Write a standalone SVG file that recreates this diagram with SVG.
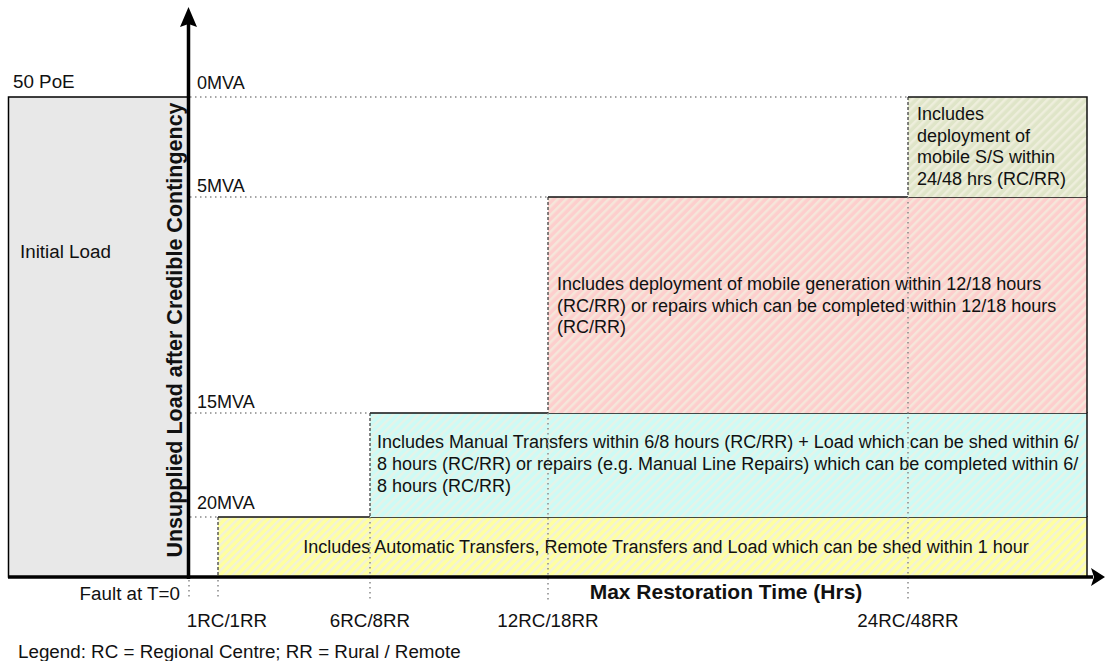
<svg xmlns="http://www.w3.org/2000/svg" width="1105" height="661" viewBox="0 0 1105 661">
<defs>
<pattern id="pY" width="6" height="6" patternUnits="userSpaceOnUse" patternTransform="rotate(45)"><rect width="6" height="6" fill="#ffff9e"/><rect width="2.5" height="6" fill="#f3f3d6"/></pattern>
<pattern id="pC" width="6" height="6" patternUnits="userSpaceOnUse" patternTransform="rotate(45)"><rect width="6" height="6" fill="#ccfbf6"/><rect width="2.5" height="6" fill="#e6f3e8"/></pattern>
<pattern id="pP" width="6" height="6" patternUnits="userSpaceOnUse" patternTransform="rotate(45)"><rect width="6" height="6" fill="#fdcecd"/><rect width="2.5" height="6" fill="#f5e6da"/></pattern>
<pattern id="pG" width="6" height="6" patternUnits="userSpaceOnUse" patternTransform="rotate(45)"><rect width="6" height="6" fill="#dfe5c8"/><rect width="2.5" height="6" fill="#eeeedc"/></pattern>
</defs>
<style>
text{font-family:"Liberation Sans",Arial,sans-serif;font-size:18px;fill:#111}
.lb{font-size:18.8px}
.b{font-weight:bold;font-size:21px}
.dot{stroke:#888;stroke-width:1.5;stroke-dasharray:1.5 3.5;fill:none}
.box{stroke:none}
.edge{stroke:#111;stroke-width:1.5;fill:none}
.dash{stroke:#333;stroke-width:1.2;stroke-dasharray:3 2;fill:none}
</style>
<g id="initial-load">
<rect x="8.5" y="97" width="180" height="480" fill="#e8e8e8" stroke="#000" stroke-width="1.5"/>
<text class="lb" x="13" y="88">50 PoE</text>
<text class="lb" x="20" y="258">Initial Load</text>
</g>
<g id="yellow">
<rect class="box" x="218" y="517" width="869" height="60" fill="url(#pY)"/>
<path class="edge" d="M218,517 H1087 V577"/>
<path class="dash" d="M218,517 V577"/>
<text x="666" y="553" text-anchor="middle">Includes Automatic Transfers, Remote Transfers and Load which can be shed within 1 hour</text>
</g>
<g id="cyan">
<rect class="box" x="370" y="413" width="717" height="104" fill="url(#pC)"/>
<path class="edge" d="M370,413 H1087 V517"/>
<path class="dash" d="M370,413 V517"/>
<text x="377" y="448">Includes Manual Transfers within 6/8 hours (RC/RR) + Load which can be shed within 6/</text>
<text x="377" y="470">8 hours (RC/RR) or repairs (e.g. Manual Line Repairs) which can be completed within 6/</text>
<text x="377" y="492">8 hours (RC/RR)</text>
</g>
<g id="pink">
<rect class="box" x="548" y="197" width="539" height="216" fill="url(#pP)"/>
<path class="edge" d="M548,197 H1087 V413"/>
<path class="dash" d="M548,197 V413"/>
<text x="557" y="290">Includes deployment of mobile generation within 12/18 hours</text>
<text x="557" y="311.5">(RC/RR) or repairs which can be completed within 12/18 hours</text>
<text x="557" y="333">(RC/RR)</text>
</g>
<g id="green">
<rect class="box" x="908" y="97" width="179" height="100" fill="url(#pG)"/>
<path class="edge" d="M908,97 H1087 V197"/>
<path class="dash" d="M908,97 V197"/>
<text x="917" y="120">Includes</text>
<text x="917" y="141.5">deployment of</text>
<text x="917" y="163">mobile S/S within</text>
<text x="917" y="184.5">24/48 hrs (RC/RR)</text>
</g>
<g id="connectors">
<path class="dot" d="M190,97 H908 M190,197 H548 M190,413 H370 M190,517 H218"/>
<path class="dot" d="M189,580 V600 M218,580 V600 M370,517 V600 M548,413 V600 M908,197 V600"/>
<line x1="8" y1="577" x2="1093" y2="577" stroke="#000" stroke-width="3.5"/>
<path d="M1105,577 L1091,568 L1094,577 L1091,586 Z" fill="#000"/>
<line x1="188.5" y1="579" x2="188.5" y2="22" stroke="#000" stroke-width="3.5"/>
<path d="M188.5,7 L180,27 L188.5,24 L197,27 Z" fill="#000"/>
</g>
<g id="labels">
<text x="197" y="89">0MVA</text>
<text x="197" y="192">5MVA</text>
<text x="197" y="408">15MVA</text>
<text x="197" y="509">20MVA</text>
<text class="b" x="182" y="330" text-anchor="middle" transform="rotate(-90 182 330)" style="font-size:21.5px">Unsupplied Load after Credible Contingency</text>
<text class="lb" x="180" y="600" text-anchor="end">Fault at T=0</text>
<text class="b" x="726" y="599" text-anchor="middle">Max Restoration Time (Hrs)</text>
<text class="lb" x="227" y="627" text-anchor="middle">1RC/1RR</text>
<text class="lb" x="370" y="627" text-anchor="middle">6RC/8RR</text>
<text class="lb" x="548" y="627" text-anchor="middle">12RC/18RR</text>
<text class="lb" x="908" y="627" text-anchor="middle">24RC/48RR</text>
<text class="lb" x="18" y="658">Legend: RC = Regional Centre; RR = Rural / Remote</text>
</g>
</svg>
